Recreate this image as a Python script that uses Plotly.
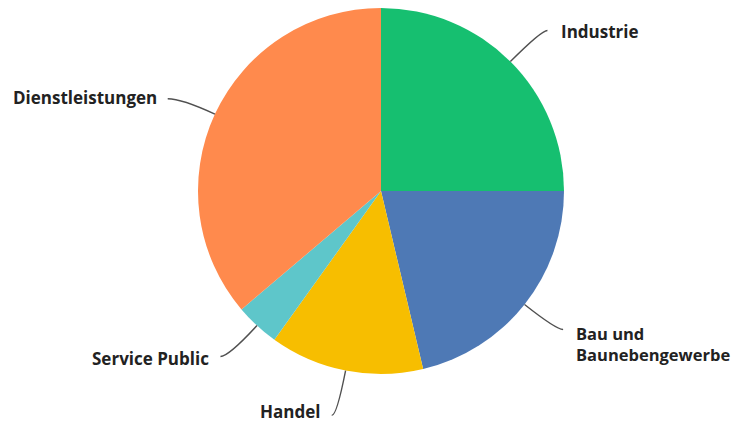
import math
import plotly.graph_objects as go

# ---- data ----
labels = ["Industrie", "Bau und Baunebengewerbe", "Handel", "Service Public", "Dienstleistungen"]
display_labels = ["Industrie", "Bau und<br>Baunebengewerbe", "Handel", "Service Public", "Dienstleistungen"]
values = [25.0, 21.3, 13.6, 3.9, 36.2]
colors = ["#16BF70", "#4E79B5", "#F7BE00", "#5EC6CA", "#FF8A4D"]

# ---- layout / style ----
OFF = 8                      # page body margin
W, H = 741 - OFF, 425 - OFF  # figure size
cx, cy, r = 381 - OFF, 191 - OFF, 183
elbow_k = [1.24, 1.22, 1.25, 1.23, 1.2]     # elbow radius factor for leader lines
tail = [6, 7, 5, 8, 14]                       # horizontal tail length (px)
gap = [12, 11, 10, 9, 9]                      # text gap from line end (px)
dy = [1, 15, -4, 2, -1]                       # text vertical offset (px)
fsize = [17, 16.5, 17, 17, 17]

fig = go.Figure(go.Pie(
    labels=labels, values=values, sort=False, direction="clockwise", rotation=0,
    marker=dict(colors=colors, line=dict(width=0)),
    textinfo="none", hoverinfo="label+value", showlegend=False,
    domain=dict(x=[max(0, (cx - r) / W), min(1, (cx + r) / W)],
                y=[max(0, (H - cy - r) / H), min(1, (H - cy + r) / H)]),
))

def px(x):
    return x / W

def py(y):
    return 1 - y / H

total = sum(values)
cum = 0.0
shapes, annotations = [], []
for i, v in enumerate(values):
    mid = (cum + v / 2) / total * 2 * math.pi
    cum += v
    s, c = math.sin(mid), math.cos(mid)
    x0, y0 = cx + r * s, cy - r * c
    ex, ey = cx + elbow_k[i] * r * s, cy - elbow_k[i] * r * c
    side = 1 if s >= 0 else -1
    x2, y2 = ex + side * tail[i], ey
    path = f"M {px(x0)},{py(y0)} Q {px(ex)},{py(ey)} {px(x2)},{py(y2)}"
    shapes.append(dict(type="path", path=path, xref="paper", yref="paper",
                       line=dict(color="#505050", width=1.4)))
    annotations.append(dict(
        x=px(x2 + side * gap[i]), y=py(y2 + dy[i]), xref="paper", yref="paper",
        text=f"<b>{display_labels[i]}</b>", showarrow=False,
        xanchor="left" if side > 0 else "right", yanchor="middle",
        align="left" if side > 0 else "right",
        font=dict(family="Open Sans, sans-serif", size=fsize[i], color="#222222"),
    ))

fig.update_layout(
    width=W, height=H, margin=dict(l=0, r=0, t=0, b=0),
    paper_bgcolor="white", plot_bgcolor="white",
    shapes=shapes, annotations=annotations,
)
fig.write_html("out.html")
